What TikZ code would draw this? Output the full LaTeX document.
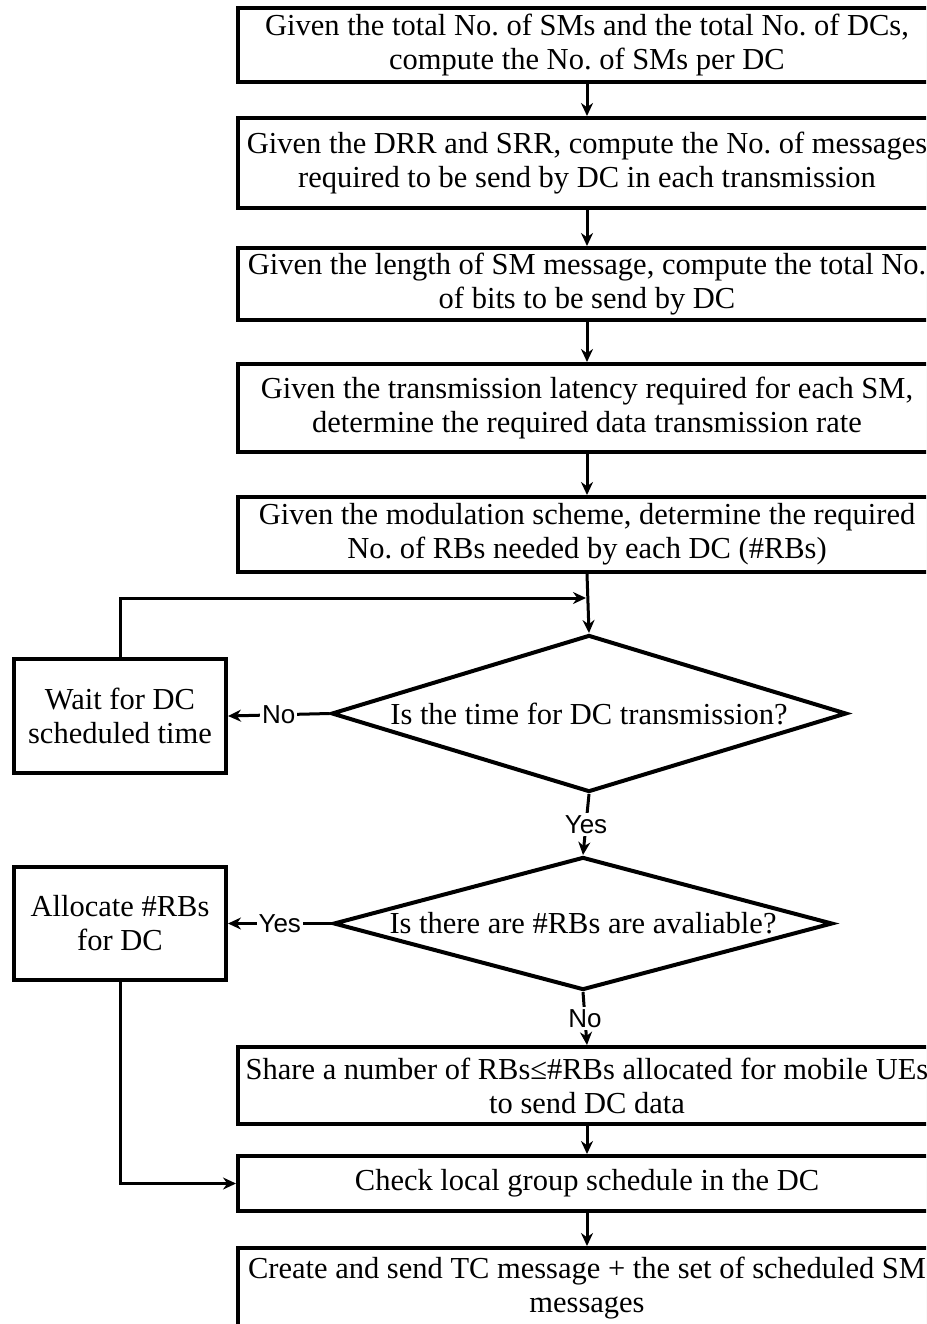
\documentclass[tikz,border=0pt]{standalone}
\usepackage{fontspec}
\setmainfont{Liberation Serif}
\newfontfamily\yesnofont{Liberation Sans}
\usetikzlibrary{arrows.meta,shapes.geometric,shadows}
\frenchspacing
\begin{document}
\begin{tikzpicture}[x=1pt,y=-1pt,
  every node/.style={font=\fontsize{30.5}{34}\selectfont},
  boxshadow/.style={drop shadow={shadow xshift=2pt,shadow yshift=-2pt,fill=black!35,opacity=0.5}},
  stepbox/.style={draw,rectangle,line width=4pt,minimum width=698pt,inner sep=0pt,
    align=center,fill=white,boxshadow},
  sidebox/.style={draw,rectangle,line width=4pt,minimum width=212pt,inner sep=0pt,
    align=center,fill=white,boxshadow},
  decision/.style={draw,diamond,line width=4pt,inner sep=0pt,fill=white},
  flow/.style={line width=3pt,-{Stealth[length=13pt,width=12pt]}},
  answer/.style={font=\yesnofont\fontsize{26}{26}\selectfont,fill=white,inner sep=2pt}
]
\useasboundingbox (0,0) rectangle (926,1324);
\clip (0,0) rectangle (926,1324);

% main column of processing steps
\node[stepbox,minimum height=74pt] (s1) at (587,45)
  {Given the total No. of SMs and the total No. of DCs,\\compute the No. of SMs per DC};
\node[stepbox,minimum height=90pt] (s2) at (587,163)
  {Given the DRR and SRR, compute the No. of messages\\required to be send by DC in each transmission};
\node[stepbox,minimum height=72pt] (s3) at (587,284)
  {Given the length of SM message, compute the total No.\\of bits to be send by DC};
\node[stepbox,minimum height=88pt] (s4) at (587,408)
  {Given the transmission latency required for each SM,\\determine the required data transmission rate};
\node[stepbox,minimum height=75pt] (s5) at (587,534.5)
  {Given the modulation scheme, determine the required\\No. of RBs needed by each DC (\#RBs)};

% decisions
\node[decision,minimum width=515pt,minimum height=157pt,
  label={center:Is the time for DC transmission?}] (d1) at (589,713.5) {};
\node[decision,minimum width=499pt,minimum height=133pt,
  label={center:Is there are \#RBs are avaliable?}] (d2) at (583,923.5) {};

% side boxes
\node[sidebox,minimum height=114pt] (wait) at (120,716) {Wait for DC\\scheduled time};
\node[sidebox,minimum height=113pt] (alloc) at (120,923.5) {Allocate \#RBs\\for DC};

% lower steps
\node[stepbox,minimum height=77pt] (s6) at (587,1085.5)
  {Share a number of RBs≤\#RBs allocated for mobile UEs\\to send DC data};
\node[stepbox,minimum height=55pt] (s7) at (587,1183.5)
  {Check local group schedule in the DC};
\node[stepbox,minimum height=80pt] (s8) at (587,1288)
  {Create and send TC message + the set of scheduled SM\\messages};

% connectors
\draw[flow] (s1) -- (s2);
\draw[flow] (s2) -- (s3);
\draw[flow] (s3) -- (s4);
\draw[flow] (s4) -- (s5);
\draw[flow] (s5.south) -- (d1.north);
\coordinate (merge) at (586,598);
\draw[flow] (wait.north) |- (merge);
\draw[flow] (d1.west) -- node[answer]{No} (wait.east);
\draw[flow] (d1.south) -- node[answer]{Yes} (d2.north);
\draw[flow] (d2.west) -- node[answer]{Yes} (alloc.east);
\draw[flow] (d2.south) -- node[answer]{No} (s6.north);
\draw[flow] (s6) -- (s7);
\draw[flow] (s7) -- (s8);
\draw[flow] (alloc.south) |- (s7.west);
\end{tikzpicture}
\end{document}
